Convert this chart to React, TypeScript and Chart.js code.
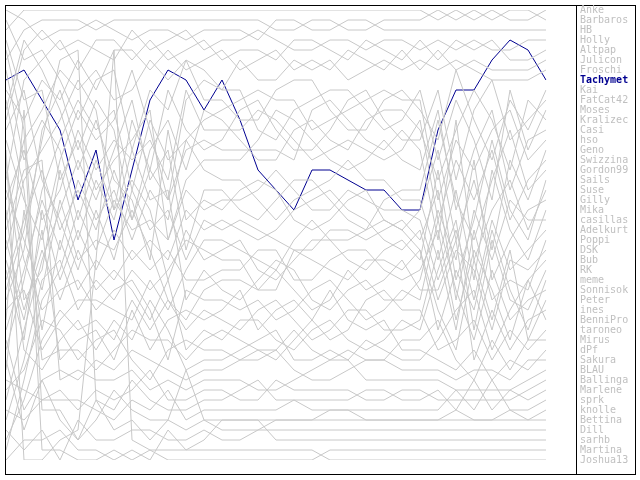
import React, { useEffect, useRef } from "react";
import { Chart, registerables } from "chart.js";

Chart.register(...registerables);

const rounds = [
  "1", "2", "3", "4", "5", "6", "7", "8", "9", "10", "11", "12", "13", "14", "15", "16",
  "17", "18", "19", "20", "21", "22", "23", "24", "25", "26", "27", "28", "29", "30", "31",
];

const players = [
  "Anke", "Barbaros", "HB", "Holly", "Altpap", "Julicon", "Froschi", "Tachymet",
  "Kai", "FatCat42", "Moses", "Kralizec", "Casi", "hso", "Geno", "Swizzina",
  "Gordon99", "Sails", "Suse", "Gilly", "Mika", "casillas", "Adelkurt", "Poppi",
  "DSK", "Bub", "RK", "meme", "Sonnisok", "Peter", "ines", "BenniPro",
  "taroneo", "Mirus", "dPf", "Sakura", "BLAU", "Ballinga", "Marlene", "sprk",
  "knolle", "Bettina", "Dill", "sarhb", "Martina", "Joshua13",
];

const highlighted = "Tachymet";

const rankAnke = [3,1,1,1,1,1,1,1,1,1,1,1, 1,1,1,1,1,1,1,1,1,1,1,1, 2,1,2,1,2,2, 1];
const rankBarbaros = [6,3,2,2,2,3,2,2,2,2,2,2, 2,2,2,3,3,2,2,3,3,2,2,2, 1,2,1,2,1,1, 2];
const rankHB = [1,2,4,3,3,2,3,4,3,3,4,3, 3,3,4,2,2,3,3,2,2,3,3,3, 3,3,3,3,3,3, 3];
const rankHolly = [12,5,3,5,4,5,6,3,5,4,3,5, 4,4,3,4,5,5,4,4,5,4,4,5, 4,5,4,5,5,4, 4];
const rankAltpap = [18,8,6,4,7,4,4,6,4,6,5,4, 6,5,5,6,4,4,5,6,4,5,6,4, 6,4,5,4,6,6, 5];
const rankJulicon = [9,12,8,10,6,9,5,5,7,5,7,6, 5,7,6,5,7,6,7,5,6,7,5,7, 5,7,6,7,7,7, 6];
const rankFroschi = [22,14,11,7,9,7,10,9,6,8,6,7, 9,6,8,8,6,7,6,8,7,6,7,6, 7,6,7,8,8,8, 7];
const rankTachymet = [8,7,10,13,20,15,24,17,10,7,8,11, 8,12,17,19,21,17,17,18,19,19,21,21, 13,9,9,6,4,5, 8];
const rankKai = [2,6,5,8,12,8,7,15,9,11,6,10, 10,12,12,9,8,8,11,13,13,10,9,11, 14,7,12,16,10,13, 9];
const rankFatCat42 = [25,18,15,12,8,11,21,12,17,9,13,15, 14,11,10,13,15,15,13,10,9,12,14,14, 9,18,11,8,14,12, 10];
const rankMoses = [14,20,24,16,11,14,12,7,13,20,10,8, 9,9,13,14,11,10,9,9,11,13,12,9, 16,10,14,20,9,15, 11];
const rankKralizec = [30,25,13,9,15,10,13,22,15,12,17,11, 12,14,16,16,13,12,14,15,12,11,11,13, 18,13,9,12,17,10, 12];
const rankCasi = [4,10,9,18,14,19,16,14,11,24,18,16, 16,16,14,11,12,14,16,17,16,14,16,17, 11,21,15,11,19,14, 13];
const rankHso = [35,28,19,14,10,13,11,19,12,16,14,12, 11,10,9,10,10,13,12,11,10,9,10,10, 20,14,17,13,11,16, 14];
const rankGeno = [11,4,7,11,17,12,18,20,26,13,22,20, 21,19,18,19,22,23,22,20,19,22,23,21, 15,24,18,25,16,20, 15];
const rankSwizzina = [20,15,22,19,13,17,14,16,14,18,9,13, 13,13,11,12,14,16,15,14,15,16,15,12, 22,16,20,15,22,18, 16];
const rankGordon99 = [40,33,26,21,16,20,15,10,18,15,25,19, 19,21,22,20,18,18,20,22,23,20,19,19, 12,20,24,18,13,19, 17];
const rankSails = [7,16,12,15,22,16,21,18,21,28,23,26, 25,24,27,28,26,24,24,26,27,25,24,26, 17,28,22,14,21,24, 18];
const rankSuse = [28,22,17,23,19,23,17,22,17,20,15,14, 15,15,15,15,16,11,10,12,14,15,13,15, 24,12,26,21,18,23, 19];
const rankGilly = [16,30,27,17,24,18,22,15,20,19,30,27, 29,30,28,26,27,30,31,29,28,30,30,28, 21,26,16,28,24,21, 20];
const rankMika = [33,27,20,25,18,22,19,24,19,22,14,17, 18,18,20,22,20,19,18,16,18,18,20,20, 26,19,28,17,23,26, 21];
const rankCasillas = [13,9,18,22,27,21,26,19,23,21,26,22, 23,22,23,24,25,25,23,23,24,23,22,24, 19,30,21,26,20,22, 22];
const rankAdelkurt = [45,38,30,27,21,25,20,23,22,24,19,21, 20,20,19,17,19,21,21,19,20,21,21,22, 28,23,30,22,27,25, 23];
const rankPoppi = [19,24,29,20,26,24,25,21,25,30,33,31, 32,33,31,30,32,34,33,31,31,33,33,32, 25,33,23,30,28,29, 24];
const rankDSK = [27,34,21,28,23,27,23,26,24,26,21,23, 22,23,24,23,21,20,19,21,22,24,25,23, 30,25,27,33,26,27, 25];
const rankBub = [37,21,33,24,29,26,28,25,27,25,28,28, 27,27,25,25,28,28,26,25,25,27,28,27, 23,32,25,29,34,28, 26];
const rankRK = [24,31,25,30,25,29,27,29,32,28,35,33, 34,32,32,34,35,33,32,34,35,34,32,33, 27,22,33,24,30,31, 27];
const rankMeme = [42,36,28,26,31,28,30,27,29,27,24,25, 26,26,29,29,25,26,27,28,26,26,27,25, 33,27,31,23,29,33, 28];
const rankSonnisok = [17,26,31,29,28,31,29,28,31,36,29,30, 30,31,30,32,31,29,28,30,32,31,29,30, 22,29,34,27,32,30, 29];
const rankPeter = [31,29,35,32,30,30,31,32,28,31,27,24, 24,25,26,27,24,22,24,24,23,22,23,25, 31,35,26,32,25,34, 30];
const rankInes = [44,40,34,31,33,32,34,30,33,30,32,29, 28,28,29,27,29,31,30,27,29,28,26,29, 29,24,36,31,35,32, 31];
const rankBenniPro = [21,35,37,34,32,35,32,34,30,33,37,36, 36,35,34,33,36,36,35,36,34,35,36,36, 34,31,29,35,31,28, 32];
const rankTaroneo = [26,32,23,36,34,33,36,31,35,32,31,32, 31,29,33,31,30,32,34,33,30,29,31,31, 35,34,32,36,33,35, 33];
const rankMirus = [39,37,32,33,36,34,33,36,38,35,34,35, 35,36,36,35,33,35,36,35,36,36,34,34, 32,36,38,34,37,34, 34];
const rankDPf = [10,19,36,35,35,37,35,33,34,34,36,34, 33,34,35,36,34,32,29,32,33,32,35,35, 36,37,35,38,36,37, 35];
const rankSakura = [34,41,38,37,38,36,37,35,36,37,38,37, 37,36,35,35,37,38,38,37,36,36,37,37, 37,38,37,37,38,36, 36];
const rankBLAU = [23,17,16,38,37,38,38,37,39,38,39,38, 38,38,39,39,38,37,36,36,38,38,38,38, 38,39,39,39,39,38, 37];
const rankBallinga = [38,39,40,39,41,39,40,39,37,40,40,39, 39,40,40,38,39,39,39,39,40,40,39,39, 40,40,40,40,40,39, 38];
const rankMarlene = [29,23,14,6,5,40,41,38,40,41,41,40, 40,39,38,40,40,40,40,40,39,39,40,40, 39,41,38,41,39,40, 39];
const rankSprk = [41,42,40,40,40,41,42,40,41,39,42,41, 41,41,41,41,40,41,41,41,41,41,41,41, 41,39,41,38,41,41, 40];
const rankKnolle = [32,11,41,41,44,42,39,41,42,42,37,42, 42,42,42,42,42,42,41,41,42,42,42,42, 42,41,42,42,41,42, 41];
const rankBettina = [36,43,38,42,44,40,43,42,44,42,43,42, 43,43,43,42,42,42,42,42,42,42,42,42, 42,42,42,42,42,42, 42];
const rankDill = [43,45,43,46,42,44,44,43,43,44,44,43, 44,44,43,43,43,43,43,43,43,43,43,43, 43,43,43,43,43,43, 43];
const rankSarhb = [46,44,44,43,45,45,46,45,46,43,45,44, 42,42,42,44,44,44,44,44,44,44,44,44, 44,44,44,44,44,44, 44];
const rankMartina = [5,13,45,45,46,46,45,46,45,46,46,46, 46,46,46,46,46,46,45,45,45,45,45,45, 45,45,45,45,45,45, 45];
const rankJoshua13 = [15,46,46,44,43,26,5,44,45,45,45,45, 45,45,45,45,45,45,46,46,46,46,46,46, 46,46,46,46,46,46, 46];

const rankSeries = [
  rankAnke, rankBarbaros, rankHB, rankHolly, rankAltpap, rankJulicon, rankFroschi, rankTachymet,
  rankKai, rankFatCat42, rankMoses, rankKralizec, rankCasi, rankHso, rankGeno, rankSwizzina,
  rankGordon99, rankSails, rankSuse, rankGilly, rankMika, rankCasillas, rankAdelkurt, rankPoppi,
  rankDSK, rankBub, rankRK, rankMeme, rankSonnisok, rankPeter, rankInes, rankBenniPro,
  rankTaroneo, rankMirus, rankDPf, rankSakura, rankBLAU, rankBallinga, rankMarlene, rankSprk,
  rankKnolle, rankBettina, rankDill, rankSarhb, rankMartina, rankJoshua13,
];

const GRAY_LINE = "#c8c8c8";
const GRAY_TEXT = "#c0c0c0";
const BLUE = "#000090";

const framePlugin = {
  id: "frameAndNames",
  afterDraw(chart: any) {
    const ctx = chart.ctx as CanvasRenderingContext2D;
    const yScale = chart.scales.y;
    ctx.save();
    ctx.strokeStyle = "#000000";
    ctx.lineWidth = 1;
    ctx.strokeRect(5.5, 5.5, 630, 469);
    ctx.beginPath();
    ctx.moveTo(576.5, 5);
    ctx.lineTo(576.5, 474);
    ctx.stroke();
    ctx.textAlign = "left";
    ctx.textBaseline = "middle";
    players.forEach((name, i) => {
      const isHi = name === highlighted;
      ctx.fillStyle = isHi ? BLUE : GRAY_TEXT;
      ctx.font = (isHi ? "bold " : "") + "10px 'DejaVu Sans Mono', monospace";
      const y = yScale.getPixelForValue(i + 1);
      ctx.fillText(name, 580, y);
    });
    ctx.restore();
  },
};

export default function App() {
  const canvasRef = useRef<HTMLCanvasElement | null>(null);

  useEffect(() => {
    const canvas = canvasRef.current;
    if (!canvas) return;
    const order = players.map((_, i) => i).filter((i) => players[i] !== highlighted);
    order.push(players.indexOf(highlighted));
    const datasets = order.map((i) => ({
      label: players[i],
      data: rankSeries[i],
      borderColor: players[i] === highlighted ? BLUE : GRAY_LINE,
      borderWidth: 1,
      pointRadius: 0,
      pointHoverRadius: 0,
      tension: 0,
      fill: false,
    }));
    const chart = new Chart(canvas, {
      type: "line",
      data: { labels: rounds, datasets },
      options: {
        animation: false,
        responsive: false,
        events: [],
        layout: { padding: { left: 6, right: 94, top: 10, bottom: 20 } },
        scales: {
          x: { type: "category", display: false, offset: false },
          y: { type: "linear", display: false, min: 1, max: 46, reverse: true },
        },
        plugins: {
          legend: { display: false },
          tooltip: { enabled: false },
        },
      },
      plugins: [framePlugin],
    });
    return () => chart.destroy();
  }, []);

  return (
    <div style={{ position: "absolute", left: 0, top: 0, width: 640, height: 480, background: "#ffffff" }}>
      <canvas ref={canvasRef} width={640} height={480} style={{ display: "block" }} />
    </div>
  );
}
